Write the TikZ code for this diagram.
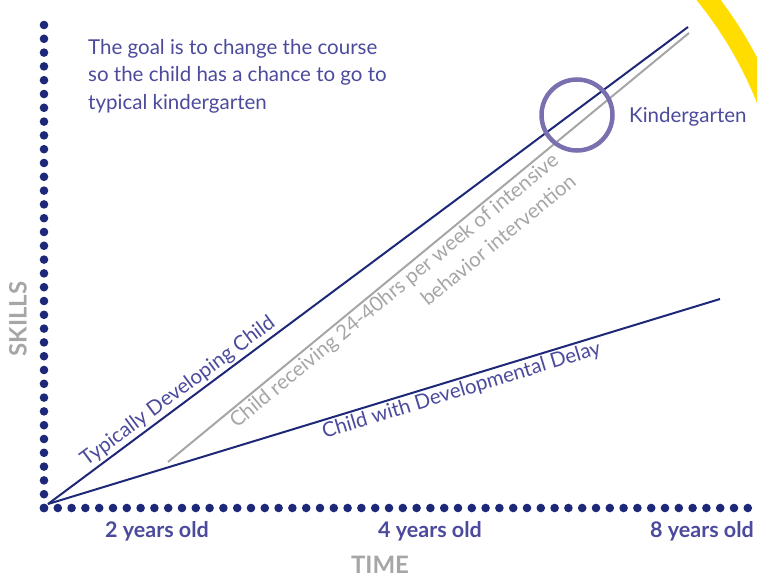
\documentclass[tikz,border=0pt]{standalone}
\usepackage{fontspec}
\setmainfont{Lato}
\usetikzlibrary{positioning}
\definecolor{navy}{HTML}{1E2878}
\definecolor{lbltext}{HTML}{4B4A9C}
\definecolor{ringcol}{HTML}{7A70B0}
\definecolor{greyline}{HTML}{A6A6A6}
\definecolor{sunyellow}{HTML}{FFDD00}

\begin{document}
\begin{tikzpicture}[x=1pt, y=1pt,
        dotaxis/.style={navy, line width=8.6pt, line cap=round, dash pattern=on 0pt off 13.8pt},
        trend/.style={navy, line width=2pt},
        txt/.style={text=lbltext, font=\fontsize{20.5}{27.5}\selectfont, inner sep=2pt},
        agelbl/.style={text=lbltext, font=\fontsize{21.5}{24}\selectfont\bfseries},
        axislbl/.style={text=greyline, font=\fontsize{24}{26}\selectfont\bfseries, inner sep=1pt}]
        \useasboundingbox (0,0) rectangle (757,579);
        \clip (0,0) rectangle (757,579);
        % yellow band in the corner
        \draw[sunyellow, line width=19pt] (394,332) ++(44:400) arc (44:20:400);
        % axes
        \coordinate (corner) at (44,71);
        \coordinate (ytop) at (44,567);
        \coordinate (xend) at (770,71);
        \draw[dotaxis] (corner) -- (ytop);
        \draw[dotaxis] (corner) -- (xend);
        % trend lines
        \coordinate (start) at (48,75);
        \coordinate (typend) at (688,552);
        \coordinate (graystart) at (168,117);
        \coordinate (grayend) at (689,546);
        \coordinate (delayend) at (720,280);
        \draw[greyline, line width=2pt] (graystart) -- node[txt, text=greyline, sloped, below, pos=0.42, align=right] (abalbl) {Child receiving 24-40hrs per week of intensive\\behavior intervention} (grayend);
        \draw[trend] (start) -- node[txt, sloped, above, pos=0.215] (typlbl) {Typically Developing Child} (typend);
        \draw[trend] (start) -- node[txt, sloped, below, pos=0.61] (delaylbl) {Child with Developmental Delay} (delayend);
        \node[circle, draw=ringcol, line width=4.5pt, minimum size=71pt, inner sep=0pt] (ring) at (577,464) {};
        \node[txt, anchor=west] (kinder) at (627,462) {Kindergarten};
        \node[txt, anchor=north west, align=left] (goal) at (86,542) {The goal is to change the course\\so the child has a chance to go to\\typical kindergarten};
        % axis labels
        \node[agelbl] (age2) at (157,48) {2 years old};
        \node[agelbl] (age4) at (430,48) {4 years old};
        \node[agelbl] (age8) at (702,48) {8 years old};
        \node[axislbl] (timelbl) at (380,14) {TIME};
        \node[axislbl, rotate=90] (skillslbl) at (18,260) {SKILLS};
    \end{tikzpicture}
\end{document}
